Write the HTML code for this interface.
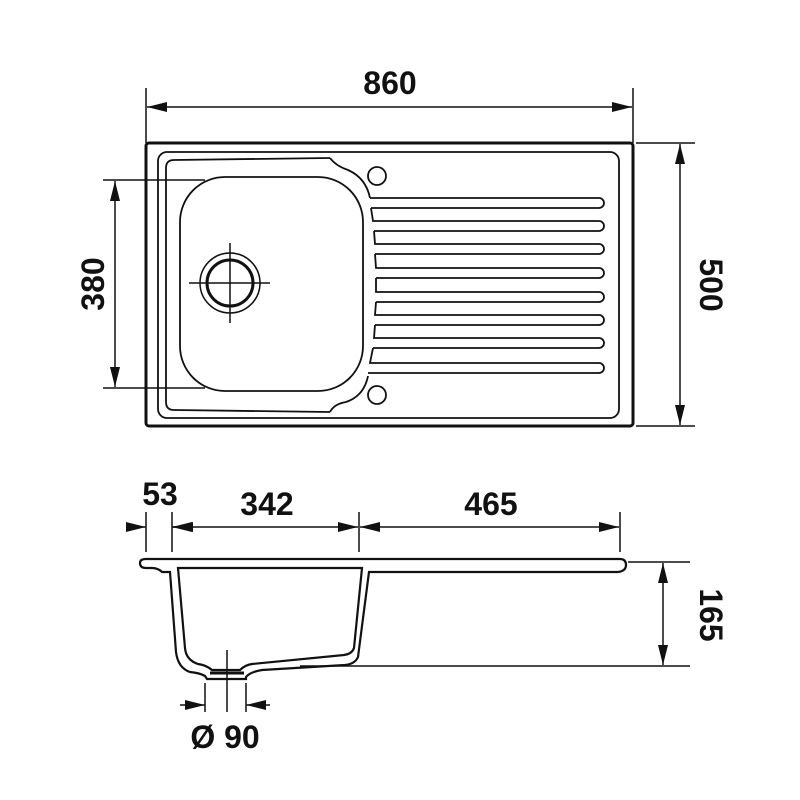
<!DOCTYPE html>
<html><head><style>body{margin:0;background:#fff}svg{display:block}text{font-family:"Liberation Sans",sans-serif;font-weight:bold;font-size:32px;fill:#111}</style></head>
<body>
<svg width="800" height="800" viewBox="0 0 800 800" xmlns="http://www.w3.org/2000/svg">
<defs>
<marker id="a" viewBox="0 0 20 10" refX="20" refY="5" markerWidth="20" markerHeight="10" orient="auto-start-reverse" markerUnits="userSpaceOnUse"><path d="M0,0L20,5L0,10z" fill="#111"/></marker>
</defs>
<g stroke="#111" fill="none">
<rect x="146" y="143" width="487" height="283" rx="3" stroke-width="3"/>
<rect x="158" y="152" width="461" height="266" rx="9" stroke-width="1.8"/>
<path d="M330,158 L174,160 Q166,160 166,168 L166,402 Q166,410 174,410 L330,412" stroke-width="1.8"/>
<path d="M330,158 Q336,166 348,170 Q366,178 370,198" stroke-width="1.8"/>
<path d="M330,412 Q334,404 346,402 Q364,396 368,376" stroke-width="1.8"/>
<rect x="180" y="177" width="183" height="214" rx="45" stroke-width="1.8"/>
<circle cx="230" cy="283" r="30" stroke-width="1.5"/>
<circle cx="230" cy="283" r="23" stroke-width="3"/>
<path d="M230,243V323M189,283H270" stroke-width="1.5"/>
<circle cx="377" cy="176" r="9" stroke-width="1.8"/>
<circle cx="377" cy="395" r="9" stroke-width="1.8"/>
<g stroke-width="1.8">
<path d="M370,198H599a5,5 0 0 1 0,10H371"/>
<path d="M371,208L373,221H599a5,5 0 0 1 0,10H374"/>
<path d="M374,231L375,244H599a5,5 0 0 1 0,10H375"/>
<path d="M375,254L376,268H599a5,5 0 0 1 0,10H376"/>
<path d="M376,278L376,292H599a5,5 0 0 1 0,10H376"/>
<path d="M376,302L375,315H599a5,5 0 0 1 0,10H375"/>
<path d="M375,325L374,338H599a5,5 0 0 1 0,10H373"/>
<path d="M373,348L370,363H599a5,5 0 0 1 0,10H368"/>
</g>
<g stroke-width="1.5">
<path d="M146,88V143M633,88V143"/>
<path d="M147,107H632" marker-start="url(#a)" marker-end="url(#a)"/>
<path d="M636,143H695M636,426H695"/>
<path d="M680,144V425" marker-start="url(#a)" marker-end="url(#a)"/>
<path d="M103,180H205M103,388H205"/>
<path d="M115,181V387" marker-start="url(#a)" marker-end="url(#a)"/>
</g>
<path d="M146,559H620Q626,559 626,565Q626,571 618,572H369L358,657Q355,664 345,665L262,670Q250,672 246,677L246,679H207L205,676Q200,673 190,672Q178,668 176,652L170,572H162Q158,568 152,568H146Q140,568 140,563Q140,559 146,559Z" stroke-width="2.2"/>
<path d="M178,568H362L354,648Q352,654 344,655L252,664Q245,665 240,670H212Q206,665 198,664Q186,660 185,648Z" stroke-width="2.2"/>
<path d="M210,673H244" stroke-width="3"/>
<g stroke-width="1.5">
<path d="M146,512V552M172,512V552M359,512V552M620,512V552"/>
<path d="M128,527H146" marker-end="url(#a)"/>
<path d="M190,527H172" marker-end="url(#a)"/>
<path d="M173,527H358" marker-start="url(#a)" marker-end="url(#a)"/>
<path d="M360,527H619" marker-start="url(#a)" marker-end="url(#a)"/>
<path d="M628,562H690M300,666H690"/>
<path d="M663,563V665" marker-start="url(#a)" marker-end="url(#a)"/>
<path d="M205,683V712M227,650V712M246,683V712"/>
<path d="M180,705H205" marker-end="url(#a)"/>
<path d="M270,705H246" marker-end="url(#a)"/>
</g>
</g>
<text x="390" y="94" text-anchor="middle">860</text>
<text transform="translate(700,285) rotate(90)" text-anchor="middle">500</text>
<text transform="translate(104,284) rotate(-90)" text-anchor="middle">380</text>
<text x="160" y="505" text-anchor="middle">53</text>
<text x="267" y="515" text-anchor="middle">342</text>
<text x="491" y="515" text-anchor="middle">465</text>
<text transform="translate(700,615) rotate(90)" text-anchor="middle">165</text>
<text x="225" y="748" text-anchor="middle">Ø 90</text>
</svg>
</body></html>
